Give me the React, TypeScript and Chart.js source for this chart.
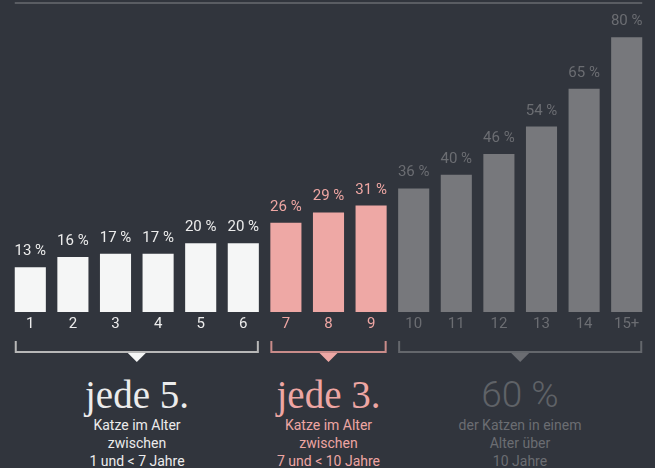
import React, { useEffect, useRef } from "react";
import { Chart, registerables } from "chart.js";

Chart.register(...registerables);

const categories = ["1", "2", "3", "4", "5", "6", "7", "8", "9", "10", "11", "12", "13", "14", "15+"];
const shares = [13, 16, 17, 17, 20, 20, 26, 29, 31, 36, 40, 46, 54, 65, 80];
const groupOf = [0, 0, 0, 0, 0, 0, 1, 1, 1, 2, 2, 2, 2, 2, 2];
const groupRanges = [
  [0, 5],
  [6, 8],
  [9, 14],
];
const barColors = ["#f5f6f6", "#eea8a5", "#77787c"];
const textColors = ["#ececec", "#eea6a3", "#6b6d72"];
const bracketColors = ["#b8b8b8", "#c98c8a", "#64676c"];
const triangleColors = ["#f5f6f6", "#eea8a5", "#6a6c71"];

const bigTexts = ["jede 5.", "jede 3.", "60 %"];
const subTexts = [
  ["Katze im Alter", "zwischen", "1 und < 7 Jahre"],
  ["Katze im Alter", "zwischen", "7 und < 10 Jahre"],
  ["der Katzen in einem", "Alter über", "10 Jahre"],
];
const groupCenters = [137, 328.5, 520];

const decorPlugin = {
  id: "decor",
  afterDatasetsDraw(chart: any) {
    const ctx = chart.ctx;
    const meta = chart.getDatasetMeta(0);
    const area = chart.chartArea;
    const bars = meta.data;
    ctx.save();
    // top rule
    const first = bars[0];
    const last = bars[bars.length - 1];
    ctx.strokeStyle = "#5a5d63";
    ctx.lineWidth = 2;
    ctx.beginPath();
    ctx.moveTo(first.x - first.width / 2, area.top);
    ctx.lineTo(last.x + last.width / 2, area.top);
    ctx.stroke();

    // value labels
    ctx.font = "15px Roboto";
    ctx.textAlign = "center";
    ctx.textBaseline = "alphabetic";
    bars.forEach((bar: any, i: number) => {
      ctx.fillStyle = textColors[groupOf[i]];
      ctx.fillText(shares[i] + " %", bar.x, bar.y - 12);
    });

    // brackets
    const yTop = area.bottom + 29;
    const yLine = area.bottom + 40;
    groupRanges.forEach((r, g) => {
      const a = bars[r[0]];
      const b = bars[r[1]];
      const left = a.x - a.width / 2 + 1;
      const right = b.x + b.width / 2 - 1;
      ctx.strokeStyle = bracketColors[g];
      ctx.lineWidth = 2;
      ctx.beginPath();
      ctx.moveTo(left, yTop);
      ctx.lineTo(left, yLine);
      ctx.lineTo(right, yLine);
      ctx.lineTo(right, yTop);
      ctx.stroke();
      const cx = (left + right) / 2;
      ctx.fillStyle = triangleColors[g];
      ctx.beginPath();
      ctx.moveTo(cx - 9, yLine + 1);
      ctx.lineTo(cx + 9, yLine + 1);
      ctx.lineTo(cx, yLine + 10);
      ctx.closePath();
      ctx.fill();
    });
    ctx.restore();
  },
};

export default function App() {
  const canvasRef = useRef<HTMLCanvasElement | null>(null);

  useEffect(() => {
    if (!canvasRef.current) return;
    const chart = new Chart(canvasRef.current, {
      type: "bar",
      data: {
        labels: categories,
        datasets: [
          {
            data: shares,
            backgroundColor: shares.map((_, i) => barColors[groupOf[i]]),
            barPercentage: 0.73,
            categoryPercentage: 1,
            borderWidth: 0,
          },
        ],
      },
      options: {
        animation: false,
        responsive: false,
        maintainAspectRatio: false,
        layout: { padding: { left: 9, right: 7, top: 3, bottom: 34 } },
        plugins: { legend: { display: false }, tooltip: { enabled: false } },
        scales: {
          x: {
            grid: { display: false, drawTicks: false },
            border: { display: false },
            ticks: {
              padding: 3,
              font: { family: "Roboto", size: 15 },
              color: (c: any) => textColors[groupOf[c.index] ?? 0],
            },
          },
          y: { display: false, min: 0, max: 90 },
        },
      },
      plugins: [decorPlugin],
    });
    return () => chart.destroy();
  }, []);

  return (
    <div
      style={{
        position: "fixed",
        left: 0,
        top: 0,
        width: 655,
        height: 468,
        background: "#31353d",
        overflow: "hidden",
      }}
    >
      <canvas ref={canvasRef} width={655} height={370} style={{ position: "absolute", left: 0, top: 0 }} />
      {groupCenters.map((cx, g) => (
        <div
          key={g}
          style={{
            position: "absolute",
            left: cx - 90,
            width: 180,
            top: 375,
            textAlign: "center",
            color: textColors[g],
          }}
        >
          <div
            style={{
              fontFamily: g === 2 ? "Roboto" : "'Liberation Serif', serif",
              fontWeight: g === 2 ? 300 : 400,
              fontSize: g === 2 ? 37 : 39,
              lineHeight: "40px",
              height: 41,
              color: g === 2 ? "#5f6267" : textColors[g],
            }}
          >
            {bigTexts[g]}
          </div>
          {subTexts[g].map((t, k) => (
            <div key={k} style={{ fontFamily: "Roboto", fontSize: 14, lineHeight: "18px" }}>
              {t}
            </div>
          ))}
        </div>
      ))}
    </div>
  );
}
